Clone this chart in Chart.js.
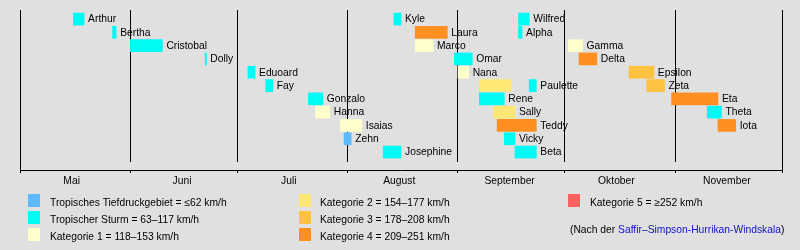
<!DOCTYPE html>
<html><head><meta charset="utf-8">
<script src="https://cdn.jsdelivr.net/npm/chart.js@4"></script>
<style>
html,body{margin:0;padding:0;background:#e0e0e0;}
#wrap{position:relative;width:800px;height:250px;overflow:hidden;background:#e0e0e0;font-family:"Liberation Sans",Arial,sans-serif;font-size:10.3px;color:#000;}
canvas{position:absolute;left:0;top:0;}
.sw{position:absolute;width:12px;height:13px;}
.lt{position:absolute;height:13px;line-height:13px;white-space:nowrap;}
.lk{color:#1010c8;}
</style></head><body>
<div id="wrap"><canvas id="c" width="800" height="250"></canvas></div>
<script>
// ---- data ----
const stormNames = ["Arthur","Bertha","Cristobal","Dolly","Eduoard","Fay","Gonzalo","Hanna","Isaias","Zehn","Josephine",
  "Kyle","Laura","Marco","Omar","Nana","Paulette","Paulette","Rene","Sally","Teddy","Vicky","Beta",
  "Wilfred","Alpha","Gamma","Delta","Epsilon","Zeta","Eta","Theta","Iota"];
const stormRows = [0,1,2,3,4,5,6,7,8,9,10,
  0,1,2,3,4,5,5,6,7,8,9,10,
  0,1,2,3,4,5,6,7,8];
const stormStarts = ["2020-05-16","2020-05-27","2020-06-01","2020-06-22","2020-07-04","2020-07-09","2020-07-21","2020-07-23","2020-07-30","2020-07-31","2020-08-11",
  "2020-08-14","2020-08-20","2020-08-20","2020-08-31","2020-09-01","2020-09-07","2020-09-21","2020-09-07","2020-09-11","2020-09-12","2020-09-14","2020-09-17",
  "2020-09-18","2020-09-18","2020-10-02","2020-10-05","2020-10-19","2020-10-24","2020-10-31","2020-11-10","2020-11-13"];
const stormEnds = ["2020-05-19","2020-05-28","2020-06-10","2020-06-22T08:00","2020-07-06","2020-07-11","2020-07-25","2020-07-27","2020-08-05","2020-08-02","2020-08-16",
  "2020-08-16","2020-08-29","2020-08-25","2020-09-05","2020-09-04","2020-09-16","2020-09-23","2020-09-14","2020-09-17","2020-09-23","2020-09-17","2020-09-23",
  "2020-09-21","2020-09-19","2020-10-06","2020-10-10","2020-10-26","2020-10-29","2020-11-13","2020-11-14","2020-11-18"];
// 0 = TD, 1 = TS, 2..6 = Kategorie 1..5
const stormCats = [1,1,1,1,1,1,1,2,2,0,1,
  1,5,2,1,2,3,1,1,3,5,1,1,
  1,1,2,5,4,4,5,1,5];
const categoryColors = ["#5ebaff","#00faf4","#ffffcc","#ffe775","#ffc140","#ff8f20","#ff6060"];
const categoryLabels = ["Tropisches Tiefdruckgebiet = ≤62 km/h","Tropischer Sturm = 63–117 km/h","Kategorie 1 = 118–153 km/h",
  "Kategorie 2 = 154–177 km/h","Kategorie 3 = 178–208 km/h","Kategorie 4 = 209–251 km/h","Kategorie 5 = ≥252 km/h"];
const monthStarts = ["2020-05-01","2020-06-01","2020-07-01","2020-08-01","2020-09-01","2020-10-01","2020-11-01","2020-12-01"];
const monthLabelDates = ["2020-05-15T12:00","2020-06-15T12:00","2020-07-15T12:00","2020-08-15T12:00","2020-09-15T12:00","2020-10-15T12:00","2020-11-15T12:00"];
const monthNames = ["Mai","Juni","Juli","August","September","Oktober","November"];
const noteText = ["(Nach der ","Saffir–Simpson-Hurrikan-Windskala",")"];

// ---- helpers ----
const ORIGIN = Date.parse("2020-05-01T00:00Z");
const dayOf = s => (Date.parse(s.length > 10 ? s + "Z" : s + "T00:00Z") - ORIGIN) / 86400000;
const boundaryDays = monthStarts.map(dayOf);
const labelDays = monthLabelDates.map(dayOf);
const startDays = stormStarts.map(dayOf);
const endDays = stormEnds.map(dayOf);
const FONT = '10.3px "Liberation Sans", Arial, sans-serif';

// ---- legend (HTML) ----
const wrap = document.getElementById("wrap");
const swX = [28, 299, 568], txX = [50, 320, 590], rowY = [194, 211, 228];
categoryLabels.forEach((lab, i) => {
  const col = Math.floor(i / 3), row = i % 3;
  const sw = document.createElement("div");
  sw.className = "sw";
  sw.style.left = swX[col] + "px"; sw.style.top = rowY[row] + "px";
  sw.style.background = categoryColors[i];
  wrap.appendChild(sw);
  const t = document.createElement("div");
  t.className = "lt";
  t.style.left = txX[col] + "px"; t.style.top = (rowY[row] + 2) + "px";
  t.textContent = lab;
  wrap.appendChild(t);
});
const note = document.createElement("div");
note.className = "lt";
note.style.left = "570px"; note.style.top = "223px";
note.appendChild(document.createTextNode(noteText[0]));
const lk = document.createElement("span"); lk.className = "lk"; lk.textContent = noteText[1];
note.appendChild(lk);
note.appendChild(document.createTextNode(noteText[2]));
wrap.appendChild(note);

// ---- plugin: month lines + storm labels ----
const overlay = {
  id: "overlay",
  beforeDatasetsDraw(chart) {
    const { ctx, chartArea: { top, bottom }, scales: { x } } = chart;
    ctx.save();
    ctx.strokeStyle = "#000"; ctx.lineWidth = 1;
    boundaryDays.forEach((d, i) => {
      const px = Math.round(x.getPixelForValue(d) - 0.5) + 0.5;
      const end = (i === 0 || i === boundaryDays.length - 1) ? bottom : bottom - 8;
      ctx.beginPath(); ctx.moveTo(px, top); ctx.lineTo(px, end); ctx.stroke();
    });
    ctx.restore();
  },
  afterDatasetsDraw(chart) {
    const { ctx, scales: { x, y } } = chart;
    ctx.save();
    ctx.font = FONT; ctx.fillStyle = "#000";
    ctx.textBaseline = "middle"; ctx.textAlign = "left";
    stormNames.forEach((n, i) => {
      if (stormNames.lastIndexOf(n) !== i) return;
      ctx.fillText(n, x.getPixelForValue(endDays[i]) + 4, y.getPixelForValue(stormRows[i]) + 0.5);
    });
    ctx.restore();
  }
};

new Chart(document.getElementById("c"), {
  type: "bar",
  data: {
    datasets: [{
      data: stormNames.map((n, i) => ({ x: [startDays[i], endDays[i]], y: stormRows[i] })),
      backgroundColor: stormCats.map(c => categoryColors[c]),
      borderWidth: 0,
      barThickness: 12,
      grouped: false
    }]
  },
  options: {
    responsive: false,
    animation: false,
    indexAxis: "y",
    layout: { padding: { left: 20, right: 18, top: 10, bottom: 60 } },
    plugins: { legend: { display: false }, tooltip: { enabled: false } },
    scales: {
      x: {
        type: "linear",
        min: boundaryDays[0], max: boundaryDays[boundaryDays.length - 1],
        afterBuildTicks: s => {
          s.ticks = boundaryDays.concat(labelDays).sort((a, b) => a - b).map(v => ({ value: v }));
        },
        afterFit: s => { s.height = 20; },
        grid: {
          display: true, drawOnChartArea: false, drawTicks: true, tickLength: 3, lineWidth: 1,
          tickColor: c => (c.tick && boundaryDays.includes(c.tick.value)) ? "#000" : "rgba(0,0,0,0)",
          color: c => (c.tick && boundaryDays.includes(c.tick.value)) ? "#000" : "rgba(0,0,0,0)"
        },
        border: { display: true, color: "#000", width: 1 },
        ticks: {
          autoSkip: false, maxRotation: 0, minRotation: 0, padding: 2,
          color: "#000",
          font: { family: '"Liberation Sans", Arial, sans-serif', size: 10.3 },
          callback: v => { const k = labelDays.indexOf(v); return k >= 0 ? monthNames[k] : ""; }
        }
      },
      y: { type: "linear", reverse: true, offset: false, min: -0.68, max: 11.35, display: false }
    }
  },
  plugins: [overlay]
});
</script>
</body></html>
